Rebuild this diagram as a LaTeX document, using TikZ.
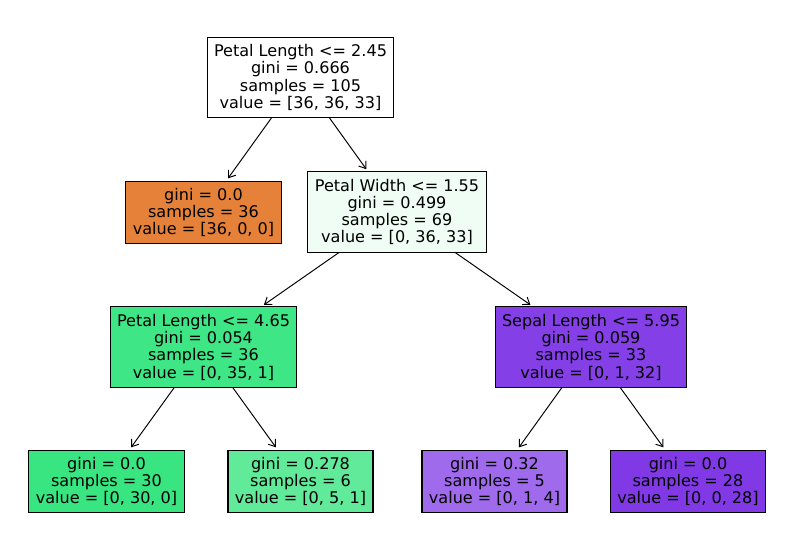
\documentclass[tikz,border=0pt]{standalone}
\usepackage{fontspec}
\setmainfont{DejaVu Sans}
\usetikzlibrary{arrows.meta}

\definecolor{rootcol}{HTML}{FFFFFF}
\definecolor{setosa}{HTML}{E58139}
\definecolor{widthcol}{HTML}{EFFDF5}
\definecolor{lencol}{HTML}{3FE685}
\definecolor{versi}{HTML}{39E581}
\definecolor{versilight}{HTML}{61EA9A}
\definecolor{sepalcol}{HTML}{853FE6}
\definecolor{virgilight}{HTML}{A06AEC}
\definecolor{virgi}{HTML}{8139E5}

\tikzset{
    split/.style={draw=black,line width=0.75pt,align=center,inner xsep=5pt,inner ysep=5pt,
        font=\fontsize{11.6}{12.5}\selectfont},
    edge/.style={-{Straight Barb[length=4.5pt,width=6.5pt]},line width=0.7pt,shorten >=2pt}
}

\begin{document}
\begin{tikzpicture}[x=0.01in,y=-0.01in]
    \useasboundingbox (0,0) rectangle (794,559);

    % splits
    \node[split,fill=rootcol] (root) at (300.5,77.5)
        {Petal Length <= 2.45\\gini = 0.666\\samples = 105\\value = [36, 36, 33]};
    \node[split,fill=widthcol] (pw) at (397,212)
        {Petal Width <= 1.55\\gini = 0.499\\samples = 69\\value = [0, 36, 33]};
    \node[split,fill=lencol] (pl) at (203.5,347)
        {Petal Length <= 4.65\\gini = 0.054\\samples = 36\\value = [0, 35, 1]};
    \node[split,fill=sepalcol] (sl) at (591,347)
        {Sepal Length <= 5.95\\gini = 0.059\\samples = 33\\value = [0, 1, 32]};

    % leaves
    \node[split,fill=setosa] (l1) at (203.5,212.5)
        {gini = 0.0\\samples = 36\\value = [36, 0, 0]};
    \node[split,fill=versi] (l2) at (106.5,481.5)
        {gini = 0.0\\samples = 30\\value = [0, 30, 0]};
    \node[split,fill=versilight] (l3) at (300.5,481.5)
        {gini = 0.278\\samples = 6\\value = [0, 5, 1]};
    \node[split,fill=virgilight] (l4) at (494.5,481.5)
        {gini = 0.32\\samples = 5\\value = [0, 1, 4]};
    \node[split,fill=virgi] (l5) at (688,481.5)
        {gini = 0.0\\samples = 28\\value = [0, 0, 28]};

    \draw[edge] (root) -- (l1);
    \draw[edge] (root) -- (pw);
    \draw[edge] (pw) -- (pl);
    \draw[edge] (pw) -- (sl);
    \draw[edge] (pl) -- (l2);
    \draw[edge] (pl) -- (l3);
    \draw[edge] (sl) -- (l4);
    \draw[edge] (sl) -- (l5);
\end{tikzpicture}
\end{document}
